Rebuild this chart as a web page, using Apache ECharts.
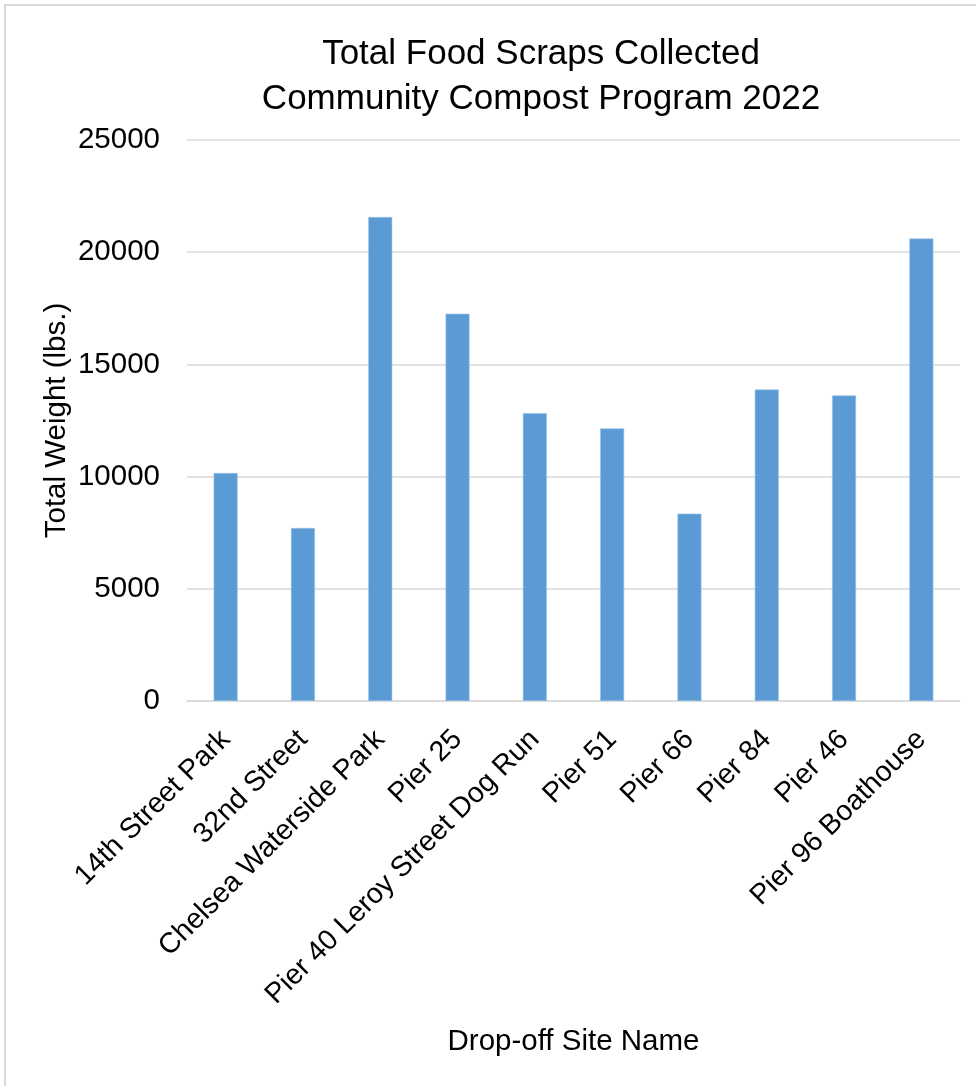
<!DOCTYPE html>
<html>
<head>
<meta charset="utf-8">
<script src="https://cdn.jsdelivr.net/npm/echarts@6/dist/echarts.min.js"></script>
<style>
html, body { margin: 0; padding: 0; background: #fff; }
#main { width: 976px; height: 1086px; }
</style>
</head>
<body>
<div id="main"></div>
<script>
var sites = ['14th Street Park', '32nd Street', 'Chelsea Waterside Park', 'Pier 25',
    'Pier 40 Leroy Street Dog Run', 'Pier 51', 'Pier 66', 'Pier 84', 'Pier 46', 'Pier 96 Boathouse'];
var weights = [10160, 7710, 21570, 17260, 12830, 12150, 8350, 13880, 13620, 20610];

var myChart = echarts.init(document.getElementById('main'));
var font = '"Liberation Sans", Arial, sans-serif';
option = {
    backgroundColor: '#fff',
    textStyle: { fontFamily: font },
    title: {
        text: 'Total Food Scraps Collected\nCommunity Compost Program 2022',
        left: 536,
        top: 27,
        textAlign: 'center',
        textStyle: {
            fontFamily: font,
            fontSize: 35,
            fontWeight: 'normal',
            color: '#000',
            lineHeight: 45
        }
    },
    graphic: [{
        type: 'rect',
        shape: { x: 5, y: 5, width: 990, height: 1100 },
        style: { fill: 'none', stroke: '#d9d9d9', lineWidth: 2 },
        silent: true
    }],
    grid: { left: 187, right: 16, top: 140, bottom: 385 },
    xAxis: {
        type: 'category',
        data: sites,
        name: 'Drop-off Site Name',
        nameLocation: 'middle',
        nameGap: 326,
        nameMoveOverlap: false,
        nameTextStyle: { fontFamily: font, fontSize: 29.5, color: '#000' },
        axisLine: { lineStyle: { color: '#d9d9d9', width: 1.5 } },
        axisTick: { show: false },
        axisLabel: {
            interval: 0,
            rotate: 45,
            margin: 34,
            fontFamily: font,
            fontSize: 28.5,
            color: '#000'
        }
    },
    yAxis: {
        type: 'value',
        min: 0,
        max: 25000,
        interval: 5000,
        name: 'Total Weight (lbs.)',
        nameLocation: 'middle',
        nameGap: 115,
        nameMoveOverlap: false,
        nameTextStyle: { fontFamily: font, fontSize: 29.5, color: '#000' },
        axisLine: { show: false },
        axisTick: { show: false },
        axisLabel: {
            margin: 27,
            fontFamily: font,
            fontSize: 29.5,
            color: '#000',
            formatter: function (v) { return String(v); }
        },
        splitLine: { lineStyle: { color: '#d9d9d9', width: 1.5 } }
    },
    series: [{
        name: 'Total Weight',
        type: 'bar',
        data: weights,
        barWidth: 24,
        itemStyle: {
            color: '#5b9bd5',
            borderColor: '#9dc3e6',
            borderWidth: 0.6
        }
    }]
};
myChart.setOption(option);
</script>
</body>
</html>
